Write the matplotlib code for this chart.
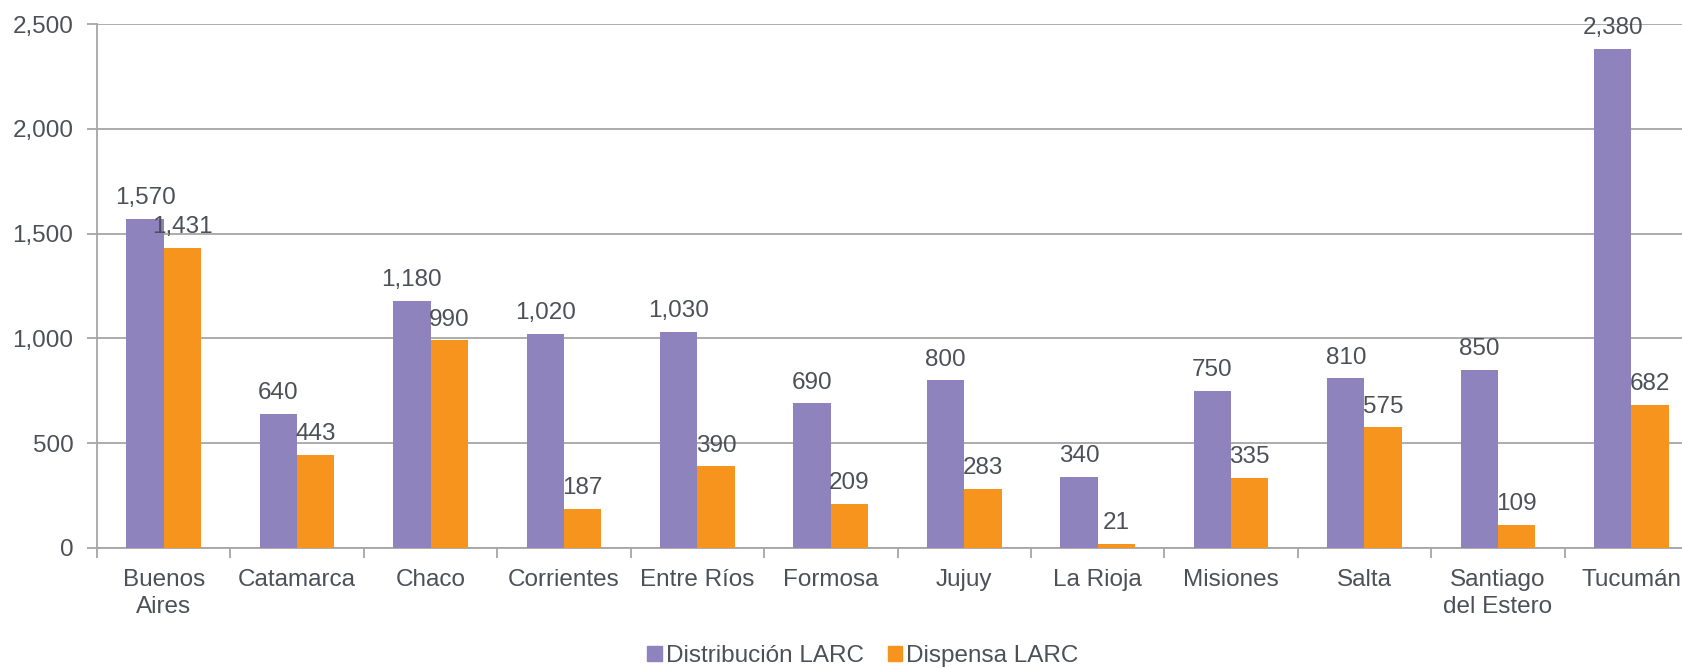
import numpy as np
import matplotlib.pyplot as plt
from matplotlib.ticker import FuncFormatter, FixedLocator
from matplotlib.patches import Patch

provincias = ['Buenos\nAires', 'Catamarca', 'Chaco', 'Corrientes', 'Entre Ríos', 'Formosa',
              'Jujuy', 'La Rioja', 'Misiones', 'Salta', 'Santiago\ndel Estero', 'Tucumán']
distribucion = [1570, 640, 1180, 1020, 1030, 690, 800, 340, 750, 810, 850, 2380]
dispensa = [1431, 443, 990, 187, 390, 209, 283, 21, 335, 575, 109, 682]

PURPLE = '#8f83bd'
ORANGE = '#f7941e'
TEXT = '#4d5058'
GRID = '#a6a6a6'
FS = 17.5

plt.rcParams['font.family'] = ['Liberation Sans', 'DejaVu Sans']

W, H = 1682, 668
fig = plt.figure(figsize=(W / 100, H / 100), dpi=100)
left, right, top, bottom = 97, 1698, 24, 548
ax = fig.add_axes([left / W, 1 - bottom / H, (right - left) / W, (bottom - top) / H])

x = np.arange(len(provincias))
w = 0.28
b1 = ax.bar(x - w / 2, distribucion, w, color=PURPLE, zorder=3)
b2 = ax.bar(x + w / 2, dispensa, w, color=ORANGE, zorder=3)

fmt = lambda v: f'{v:,.0f}'
for bars, vals in ((b1, distribucion), (b2, dispensa)):
    for r, v in zip(bars, vals):
        ax.annotate(fmt(v), (r.get_x() + r.get_width() / 2, v), xytext=(0, 7),
                    textcoords='offset points', ha='center', va='bottom',
                    fontsize=FS, color=TEXT, zorder=4)

ax.set_xlim(-0.5, len(provincias) - 0.5)
ax.set_ylim(0, 2500)
ax.set_yticks(np.arange(0, 2501, 500))
ax.yaxis.set_major_formatter(FuncFormatter(lambda v, p: fmt(v)))
ax.grid(axis='y', color=GRID, linewidth=1.3, zorder=0)

ax.set_xticks(x)
ax.set_xticklabels(provincias, linespacing=1.3)
ax.xaxis.set_minor_locator(FixedLocator(np.arange(-0.5, len(provincias), 1)))
ax.tick_params(axis='x', which='major', length=0, pad=15, labelsize=FS, labelcolor=TEXT)
ax.tick_params(axis='x', which='minor', length=7, width=1.3, color=GRID)
ax.tick_params(axis='y', length=7, width=1.3, color=GRID, pad=10, labelsize=FS, labelcolor=TEXT)

for s in ('top', 'right'):
    ax.spines[s].set_visible(False)
for s in ('left', 'bottom'):
    ax.spines[s].set_color(GRID)
    ax.spines[s].set_linewidth(1.3)

handles = [Patch(color=PURPLE, label='Distribución LARC'), Patch(color=ORANGE, label='Dispensa LARC')]
fig.legend(handles=handles, loc='center', bbox_to_anchor=(0.513, 1 - 656 / H), ncol=2,
           frameon=False, fontsize=FS, labelcolor=TEXT, handlelength=0.6, handleheight=0.6,
           handletextpad=0.15, columnspacing=1.0)

fig.savefig('out.png', dpi=100)
